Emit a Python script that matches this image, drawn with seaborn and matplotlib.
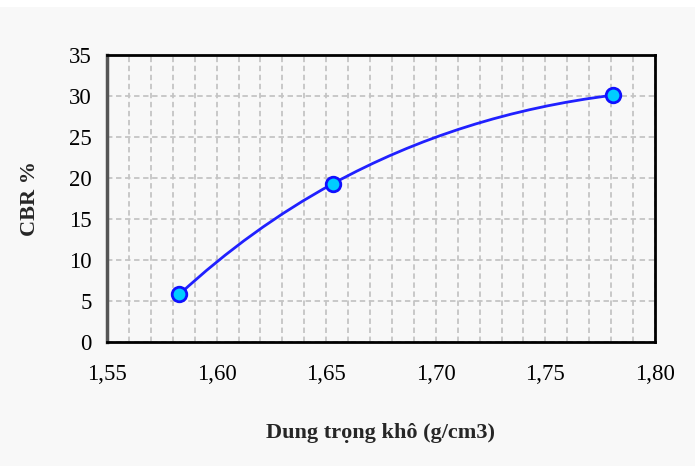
import numpy as np
import matplotlib
matplotlib.use("Agg")
import matplotlib.pyplot as plt
import seaborn as sns
from matplotlib.path import Path
from matplotlib.patches import PathPatch, Rectangle
from matplotlib.ticker import MultipleLocator, FuncFormatter

# data
dung_trong = [1.583, 1.653, 1.781]
cbr = [5.8, 19.3, 30.1]

x_label = "Dung trọng khô (g/cm3)"
y_label = "CBR %"

sns.set_style("white")
plt.rcParams['font.family'] = ['Liberation Serif', 'DejaVu Serif']

fig = plt.figure(figsize=(6.95, 4.66), dpi=100, facecolor="#f8f8f8")
fig.patches.append(Rectangle((0, 1 - 7 / 466), 1, 7 / 466, transform=fig.transFigure,
                             facecolor="white", edgecolor="none", zorder=0))
ax = fig.add_axes([107 / 695, 1 - 342 / 466, 548 / 695, 287 / 466])
ax.set_facecolor("#f8f8f8")
ax.set_xlim(1.55, 1.80)
ax.set_ylim(0, 35)


# smoothed line through the points (chord-length parabola tangents, drawn as bezier)
def tangent(p, t, i):
    j = min(max(i - 1, 0), len(p) - 3)
    a, b, c = p[j:j + 3]
    ta, tb, tc = t[j:j + 3]
    s = t[i]
    return (a * (2 * s - tb - tc) / ((ta - tb) * (ta - tc))
            + b * (2 * s - ta - tc) / ((tb - ta) * (tb - tc))
            + c * (2 * s - ta - tb) / ((tc - ta) * (tc - tb)))


pts = np.column_stack([dung_trong, cbr])
disp = ax.transData.transform(pts)
t = np.concatenate([[0], np.cumsum(np.linalg.norm(np.diff(disp, axis=0), axis=1))])
d = [tangent(pts, t, i) for i in range(len(pts))]
verts = [tuple(pts[0])]
codes = [Path.MOVETO]
for i in range(len(pts) - 1):
    h = t[i + 1] - t[i]
    verts += [tuple(pts[i] + d[i] * h / 3), tuple(pts[i + 1] - d[i + 1] * h / 3), tuple(pts[i + 1])]
    codes += [Path.CURVE4] * 3
ax.add_patch(PathPatch(Path(verts, codes), facecolor="none", edgecolor="#2020ff",
                       lw=2, zorder=3))

sns.scatterplot(x=dung_trong, y=cbr, ax=ax, s=110, color="#00ccff",
                edgecolor="#1010ff", linewidth=2, zorder=4)

ax.set_xlim(1.55, 1.80)
ax.set_ylim(0, 35)
ax.xaxis.set_major_locator(MultipleLocator(0.05))
ax.xaxis.set_minor_locator(MultipleLocator(0.01))
ax.yaxis.set_major_locator(MultipleLocator(5))
ax.xaxis.set_major_formatter(FuncFormatter(lambda v, p: f"{v:.2f}".replace(".", ",")))

ax.grid(True, which="both", axis="x", color="#c4c4c4", linestyle=(0, (3, 2)), lw=1.3)
ax.grid(True, which="major", axis="y", color="#c4c4c4", linestyle=(0, (3, 2)), lw=1.3)
ax.set_axisbelow(True)

ax.tick_params(axis="both", which="major", direction="out", length=6, width=1.5,
               color="#bbbbbb", labelsize=16.5, labelcolor="black", pad=5)
ax.tick_params(axis="x", which="minor", length=0)
ax.tick_params(axis="x", pad=10)

for side in ["top", "right", "bottom"]:
    ax.spines[side].set_color("black")
    ax.spines[side].set_linewidth(2)
ax.spines["left"].set_color("#555555")
ax.spines["left"].set_linewidth(2.5)

ax.set_xlabel(x_label, fontsize=16, fontweight="bold", va="center")
ax.set_ylabel(y_label, fontsize=16, fontweight="bold", va="center")
ax.xaxis.set_label_coords(0.5, (342 - 433) / 287)
ax.yaxis.set_label_coords((30 - 107) / 548, 0.5)

fig.savefig("out.png", dpi=100, facecolor=fig.get_facecolor())
